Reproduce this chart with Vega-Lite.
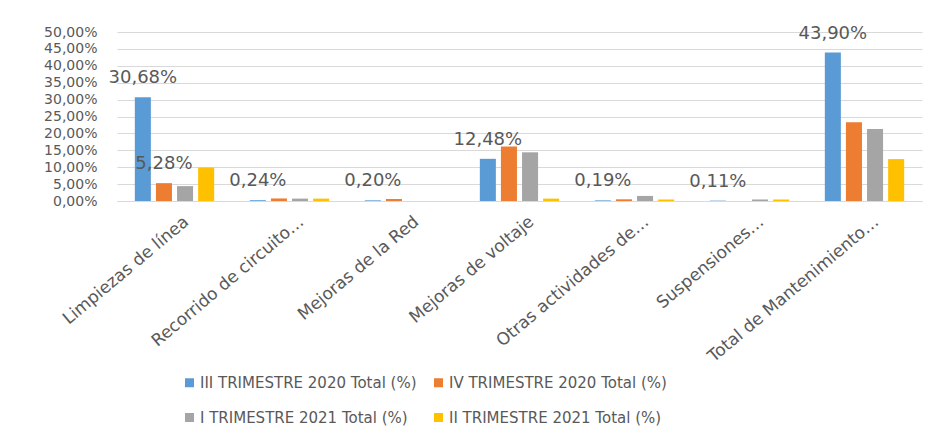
{
  "$schema": "https://vega.github.io/schema/vega-lite/v6.json",
  "width": 805,
  "height": 169,
  "autosize": {"type": "none"},
  "padding": {"left": 117, "top": 32, "right": 20, "bottom": 239},
  "background": "white",
  "config": {
    "font": "DejaVu Sans",
    "view": {"stroke": null}
  },
  "data": {
    "values": [
      {"cat": "Limpiezas de línea", "series": "III TRIMESTRE 2020 Total (%)", "value": 30.68},
      {"cat": "Limpiezas de línea", "series": "IV TRIMESTRE 2020 Total (%)", "value": 5.28},
      {"cat": "Limpiezas de línea", "series": "I TRIMESTRE 2021 Total (%)", "value": 4.4},
      {"cat": "Limpiezas de línea", "series": "II TRIMESTRE 2021 Total (%)", "value": 9.9},
      {"cat": "Recorrido de circuito…", "series": "III TRIMESTRE 2020 Total (%)", "value": 0.24},
      {"cat": "Recorrido de circuito…", "series": "IV TRIMESTRE 2020 Total (%)", "value": 0.75},
      {"cat": "Recorrido de circuito…", "series": "I TRIMESTRE 2021 Total (%)", "value": 0.7},
      {"cat": "Recorrido de circuito…", "series": "II TRIMESTRE 2021 Total (%)", "value": 0.7},
      {"cat": "Mejoras de la Red", "series": "III TRIMESTRE 2020 Total (%)", "value": 0.2},
      {"cat": "Mejoras de la Red", "series": "IV TRIMESTRE 2020 Total (%)", "value": 0.6},
      {"cat": "Mejoras de la Red", "series": "I TRIMESTRE 2021 Total (%)", "value": 0},
      {"cat": "Mejoras de la Red", "series": "II TRIMESTRE 2021 Total (%)", "value": 0},
      {"cat": "Mejoras de voltaje", "series": "III TRIMESTRE 2020 Total (%)", "value": 12.48},
      {"cat": "Mejoras de voltaje", "series": "IV TRIMESTRE 2020 Total (%)", "value": 16.1},
      {"cat": "Mejoras de voltaje", "series": "I TRIMESTRE 2021 Total (%)", "value": 14.4},
      {"cat": "Mejoras de voltaje", "series": "II TRIMESTRE 2021 Total (%)", "value": 0.7},
      {"cat": "Otras actividades de…", "series": "III TRIMESTRE 2020 Total (%)", "value": 0.19},
      {"cat": "Otras actividades de…", "series": "IV TRIMESTRE 2020 Total (%)", "value": 0.5},
      {"cat": "Otras actividades de…", "series": "I TRIMESTRE 2021 Total (%)", "value": 1.5},
      {"cat": "Otras actividades de…", "series": "II TRIMESTRE 2021 Total (%)", "value": 0.45},
      {"cat": "Suspensiones…", "series": "III TRIMESTRE 2020 Total (%)", "value": 0.11},
      {"cat": "Suspensiones…", "series": "IV TRIMESTRE 2020 Total (%)", "value": 0},
      {"cat": "Suspensiones…", "series": "I TRIMESTRE 2021 Total (%)", "value": 0.45},
      {"cat": "Suspensiones…", "series": "II TRIMESTRE 2021 Total (%)", "value": 0.45},
      {"cat": "Total de Mantenimiento…", "series": "III TRIMESTRE 2020 Total (%)", "value": 43.9},
      {"cat": "Total de Mantenimiento…", "series": "IV TRIMESTRE 2020 Total (%)", "value": 23.3},
      {"cat": "Total de Mantenimiento…", "series": "I TRIMESTRE 2021 Total (%)", "value": 21.3},
      {"cat": "Total de Mantenimiento…", "series": "II TRIMESTRE 2021 Total (%)", "value": 12.4}
    ]
  },
  "encoding": {
    "x": {
      "field": "cat",
      "type": "nominal",
      "sort": null,
      "title": null,
      "scale": {"paddingInner": 0.31, "paddingOuter": 0.155},
      "axis": {
        "labelAngle": -40,
        "labelAlign": "right",
        "labelBaseline": "top",
        "labelFont": "DejaVu Sans",
        "labelFontSize": 17,
        "labelColor": "#595959",
        "labelPadding": 12,
        "labelOffset": 7,
        "labelLimit": 0,
        "labelOverlap": false,
        "ticks": false,
        "domainColor": "#D9D9D9",
        "domainWidth": 1
      }
    },
    "xOffset": {
      "field": "series",
      "type": "nominal",
      "sort": ["III TRIMESTRE 2020 Total (%)", "IV TRIMESTRE 2020 Total (%)", "I TRIMESTRE 2021 Total (%)", "II TRIMESTRE 2021 Total (%)"],
      "scale": {"paddingInner": 0.24, "paddingOuter": 0}
    },
    "y": {
      "field": "value",
      "type": "quantitative",
      "title": null,
      "scale": {"domain": [0, 50], "nice": false},
      "axis": {
        "values": [0, 5, 10, 15, 20, 25, 30, 35, 40, 45, 50],
        "labelExpr": "replace(format(datum.value, '.2f'), '.', ',') + '%'",
        "labelFont": "DejaVu Sans",
        "labelFontSize": 14,
        "labelColor": "#595959",
        "labelPadding": 20,
        "labelOverlap": false,
        "labelFlush": false,
        "ticks": false,
        "domain": false,
        "gridColor": "#D9D9D9",
        "gridWidth": 1
      }
    }
  },
  "layer": [
    {
      "mark": {"type": "bar"},
      "encoding": {
        "color": {
          "field": "series",
          "type": "nominal",
          "title": null,
          "scale": {
            "domain": ["III TRIMESTRE 2020 Total (%)", "IV TRIMESTRE 2020 Total (%)", "I TRIMESTRE 2021 Total (%)", "II TRIMESTRE 2021 Total (%)"],
            "range": ["#5B9BD5", "#ED7D31", "#A5A5A5", "#FFC000"]
          },
          "legend": {
            "orient": "none",
            "legendX": 65,
            "legendY": 343,
            "direction": "horizontal",
            "columns": 2,
            "symbolType": "square",
            "symbolSize": 81,
            "symbolStrokeWidth": 0,
            "labelFont": "DejaVu Sans",
            "labelFontSize": 15,
            "labelColor": "#595959",
            "labelOffset": 3,
            "labelLimit": 0,
            "columnPadding": 14,
            "rowPadding": 19
          }
        }
      }
    },
    {
      "transform": [
        {"filter": "datum.series == 'III TRIMESTRE 2020 Total (%)' || (datum.cat == 'Limpiezas de línea' && datum.series == 'IV TRIMESTRE 2020 Total (%)')"},
        {"calculate": "replace(format(datum.value, '.2f'), '.', ',') + '%'", "as": "label"}
      ],
      "mark": {"type": "text", "baseline": "middle", "align": "center", "dy": -19, "font": "DejaVu Sans", "fontSize": 18, "color": "#595959"},
      "encoding": {
        "text": {"field": "label", "type": "nominal"}
      }
    }
  ]
}
